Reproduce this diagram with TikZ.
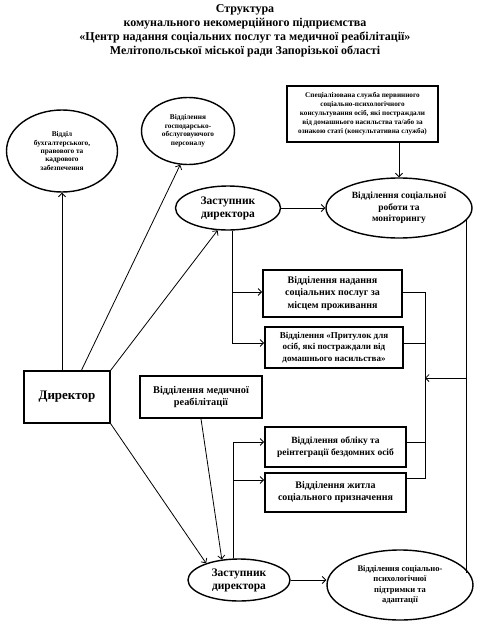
\documentclass[tikz,border=0pt]{standalone}
\usepackage{fontspec}
\setmainfont{Liberation Serif}
\usetikzlibrary{shapes.geometric,arrows.meta,calc}
\newcommand\myfs[2]{\fontsize{#1}{#2}\selectfont}
\begin{document}
\begin{tikzpicture}[x=1pt,y=-1pt,
  >={Straight Barb[length=3.5pt,width=7pt]},
  oval/.style={ellipse,draw,line width=1.4pt,inner sep=0pt,align=center,font=\bfseries},
  box/.style={rectangle,draw,line width=1.8pt,inner sep=0pt,align=center,font=\bfseries},
  conn/.style={line width=0.8pt},
  carrow/.style={line width=0.8pt,->}]
\useasboundingbox (0,0) rectangle (490,632);
% title
\node[align=center,font=\bfseries\myfs{12}{14}] (title) at (245,31)
  {Структура\\комунального некомерційного підприємства\\«Центр надання соціальних послуг та медичної реабілітації»\\Мелітопольської міської ради Запорізької області};
% nodes
\node[oval,minimum width=111,minimum height=82,font=\bfseries\myfs{7.3}{8.3}] (book) at (62,151)
  {Відділ\\бухгалтерського,\\правового та\\кадрового\\забезпечення};
\node[oval,minimum width=93,minimum height=67,font=\bfseries\myfs{7.3}{8.5}] (gosp) at (188,131)
  {Відділення\\господарсько-\\обслуговуючого\\персоналу};
\node[box,minimum width=151,minimum height=56,font=\bfseries\myfs{7.2}{9}] (spec) at (362.5,114)
  {Спеціалізована служба первинного\\соціально-психологічного\\консультування осіб, які постраждали\\від домашнього насильства та/або за\\ознакою статі (консультативна служба)};
\node[oval,minimum width=146,minimum height=60,font=\bfseries\myfs{9.5}{11.7}] (sw) at (399,208)
  {Відділення соціальної\\роботи та\\моніторингу};
\node[oval,minimum width=105,minimum height=44,font=\bfseries\myfs{11.5}{13}] (z1) at (228,208)
  {Заступник\\директора};
\node[box,minimum width=139,minimum height=47,font=\bfseries\myfs{10}{12.5}] (b1) at (332.5,293.5)
  {Відділення надання\\соціальних послуг за\\місцем проживання};
\node[box,minimum width=138,minimum height=41,font=\bfseries\myfs{9}{11.7}] (b2) at (334,347.5)
  {Відділення «Притулок для\\осіб, які постраждали від\\домашнього насильства»};
\node[box,line width=1.2pt,minimum width=86,minimum height=52,font=\bfseries\myfs{13}{14}] (dir) at (67,397)
  {Директор};
\node[box,minimum width=122,minimum height=42,font=\bfseries\myfs{10.3}{12}] (med) at (201,397)
  {Відділення медичної\\реабілітації};
\node[box,minimum width=141,minimum height=40,font=\bfseries\myfs{9.5}{12}] (b3) at (335.5,447)
  {Відділення обліку та\\реінтеграції бездомних осіб};
\node[box,minimum width=141,minimum height=39,font=\bfseries\myfs{10}{12}] (b4) at (335.5,492.5)
  {Відділення житла\\соціального призначення};
\node[oval,minimum width=102,minimum height=42,font=\bfseries\myfs{11.5}{13}] (z2) at (239,580)
  {Заступник\\директора};
\node[oval,minimum width=146,minimum height=70,font=\bfseries\myfs{8.5}{10.5}] (psy) at (400,585)
  {Відділення соціально-\\психологічної\\підтримки та\\адаптації};
% connectors from director
\draw[carrow] (book.south |- dir.north) -- (book.south);
\draw[carrow] ($(dir.north west)+(58,0)$) -- (gosp.257);
\draw[carrow] (dir.north east) -- (z1.245);
\draw[carrow] (dir.south east) -- (z2.153);
\draw[carrow] (med.south) -- (z2.130);
% upper deputy
\draw[carrow] (z1.east) -- (sw.west);
\draw[carrow] (sw.north |- spec.south) -- (sw.north);
\coordinate (t1) at ([xshift=4pt]z1.south);
\draw[carrow] (t1) |- ([yshift=1.5pt]b1.west);
\draw[carrow] (t1) |- ([yshift=4.5pt]b2.west);
% lower deputy
\coordinate (t2) at ([xshift=-6pt]z2.north);
\draw[carrow] (t2) |- ([yshift=5pt]b3.west);
\draw[carrow] (t2) |- ([yshift=12.5pt]b4.west);
\draw[carrow] (z2.east) -- (z2.east -| psy.west);
% right buses
\coordinate (rb) at (425,378);
\draw[conn] ([yshift=1.5pt]b1.east) -| (rb);
\draw[conn] ([yshift=4.5pt]b2.east) -| (rb);
\draw[conn] ([yshift=5pt]b3.east) -| (rb);
\draw[conn] ([yshift=14pt]b4.east) -| (rb);
\coordinate (rr) at (sw.-10);
\draw[conn] (rr) -- (rr |- psy.10);
\draw[carrow] (rr |- rb) -- (rb);
\end{tikzpicture}
\end{document}
